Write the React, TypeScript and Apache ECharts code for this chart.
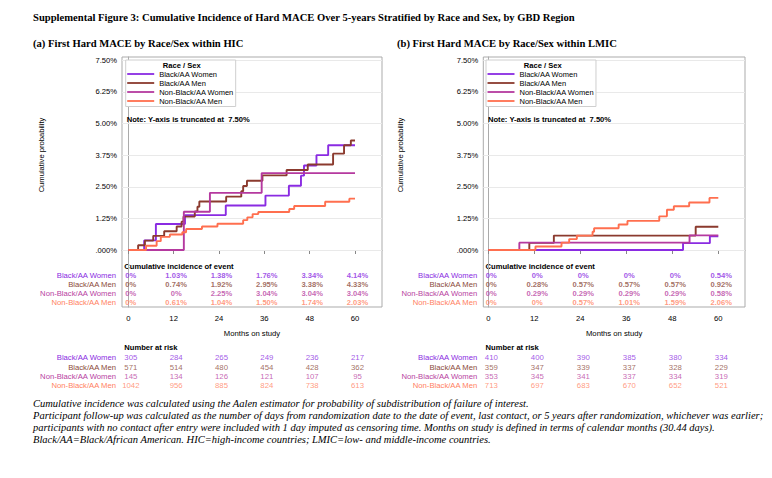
import React, { useEffect, useRef } from "react";
import * as echarts from "echarts";

const SANS = "'Liberation Sans', Arial, sans-serif";
const SERIF = "'Liberation Serif', 'Times New Roman', serif";

const GROUPS = ["Black/AA Women", "Black/AA Men", "Non-Black/AA Women", "Non-Black/AA Men"];
const LINE_COLORS = ["#8a2be2", "#8b3a2e", "#b5399f", "#ff6f4f"];
const TEXT_COLORS = ["#8a2be2", "#8b4a3a", "#b8429f", "#ff7f5f"];
const MONTHS = [0, 12, 24, 36, 48, 60];
const Y_TICKS = [0, 1.25, 2.5, 3.75, 5, 6.25, 7.5];
const Y_TICK_LABELS = [".000%", "1.25%", "2.50%", "3.75%", "5.00%", "6.25%", "7.50%"];

// (a) HIC cumulative incidence step curves: [month, percent]
const hicBlackWomen = [[0, 0], [4.2, 0.38], [7.3, 1.03], [15, 1.38], [25.8, 1.76], [36.3, 2.15], [42.5, 2.54], [45.7, 2.94], [46.5, 3.34], [49.8, 3.75], [52.9, 4.14], [60, 4.14]];
const hicBlackMen = [[0, 0], [2.6, 0.19], [4.4, 0.37], [6.6, 0.56], [9.5, 0.74], [12.8, 0.93], [14.1, 1.12], [14.6, 1.32], [17.6, 1.52], [18.3, 1.71], [18.8, 1.92], [25.9, 2.11], [29.9, 2.32], [30.4, 2.53], [31.4, 2.74], [35.5, 2.95], [41.9, 3.16], [47.5, 3.38], [54.2, 3.81], [57.1, 4.14], [58.9, 4.33], [60, 4.33]];
const hicNonBlackWomen = [[0, 0], [14.7, 1.51], [21.6, 2.26], [35.3, 3.04], [60, 3.04]];
const hicNonBlackMen = [[0, 0], [4.7, 0.17], [7.5, 0.35], [8.6, 0.52], [11, 0.61], [14.3, 0.7], [15.3, 0.83], [19.5, 0.93], [23.6, 1.04], [30.4, 1.18], [31.5, 1.29], [32.9, 1.42], [34.4, 1.5], [42.6, 1.62], [43.9, 1.74], [52.1, 1.91], [58.5, 2.03], [60, 2.03]];

// (b) LMIC
const lmicBlackWomen = [[0, 0], [50.8, 0.27], [57.8, 0.54], [60, 0.54]];
const lmicBlackMen = [[0, 0], [10.7, 0.28], [17.1, 0.57], [54.1, 0.92], [60, 0.92]];
const lmicNonBlackWomen = [[0, 0], [8.1, 0.29], [52.5, 0.58], [60, 0.58]];
const lmicNonBlackMen = [[0, 0], [12.3, 0.14], [19.1, 0.29], [21.1, 0.43], [23.1, 0.57], [27.2, 0.72], [27.6, 0.86], [34.0, 1.01], [36.3, 1.15], [44.6, 1.33], [46.6, 1.59], [48.4, 1.73], [52.4, 1.88], [57.7, 2.06], [60, 2.06]];

const hicIncidence = [
  ["0%", "1.03%", "1.38%", "1.76%", "3.34%", "4.14%"],
  ["0%", "0.74%", "1.92%", "2.95%", "3.38%", "4.33%"],
  ["0%", "0%", "2.25%", "3.04%", "3.04%", "3.04%"],
  ["0%", "0.61%", "1.04%", "1.50%", "1.74%", "2.03%"],
];
const lmicIncidence = [
  ["0%", "0%", "0%", "0%", "0%", "0.54%"],
  ["0%", "0.28%", "0.57%", "0.57%", "0.57%", "0.92%"],
  ["0%", "0.29%", "0.29%", "0.29%", "0.29%", "0.58%"],
  ["0%", "0%", "0.57%", "1.01%", "1.59%", "2.06%"],
];
const hicAtRisk = [
  [305, 284, 265, 249, 236, 217],
  [571, 514, 480, 454, 428, 362],
  [145, 134, 126, 121, 107, 95],
  [1042, 956, 885, 824, 738, 613],
];
const lmicAtRisk = [
  [410, 400, 390, 385, 380, 334],
  [359, 347, 339, 337, 328, 229],
  [353, 345, 341, 337, 334, 319],
  [713, 697, 683, 670, 652, 521],
];

const MAIN_TITLE = "Supplemental Figure 3: Cumulative Incidence of Hard MACE Over 5-years Stratified by Race and Sex, by GBD Region";
const PANEL_TITLES = ["(a) First Hard MACE by Race/Sex within HIC", "(b) First Hard MACE by Race/Sex within LMIC"];
const FOOTNOTES = [
  "Cumulative incidence was calculated using the Aalen estimator for probability of subdistribution of failure of interest.",
  "Participant follow-up was calculated as the number of days from randomization date to the date of event, last contact, or 5 years after randomization, whichever was earlier;",
  "participants with no contact after entry were included with 1 day imputed as censoring time. Months on study is defined in terms of calendar months (30.44 days).",
  "Black/AA=Black/African American. HIC=high-income countries; LMIC=low- and middle-income countries.",
];

const W = 772;
const H = 478;
const FRAME_TOP = 57;
const FRAME_BOTTOM = 307;
const Y0_PX = 250;
const Y75_PX = 60.3;
const INC_TOP = 270.4;
const RISK_TOP = 353.2;
const ROW_H = 9.2;
const FRAME_COLOR = "#ababab";

const PANELS = [
  { frameL: 122, frameR: 382, x0: 128.3, x60: 355, curves: [hicBlackWomen, hicBlackMen, hicNonBlackWomen, hicNonBlackMen], inc: hicIncidence, risk: hicAtRisk, titleX: 33, yNameX: 41.7, legendL: 125.7, valOffset: 2.5 },
  { frameL: 483.3, frameR: 745, x0: 488.3, x60: 718.3, curves: [lmicBlackWomen, lmicBlackMen, lmicNonBlackWomen, lmicNonBlackMen], inc: lmicIncidence, risk: lmicAtRisk, titleX: 397, yNameX: 400.7, legendL: 486, valOffset: 3 },
];

function makeRich(bold: boolean, size: number) {
  const rich: any = {};
  TEXT_COLORS.forEach((c, i) => (rich["r" + i] = { color: c, fontSize: size, fontFamily: SANS, fontWeight: bold ? "bold" : "normal" }));
  return rich;
}

function buildOption() {
  const pxPerPct = (Y0_PX - Y75_PX) / 7.5;
  const yMin = -(FRAME_BOTTOM - Y0_PX) / pxPerPct;
  const yMax = (Y0_PX - FRAME_TOP) / pxPerPct;
  const grid: any[] = [];
  const xAxis: any[] = [];
  const yAxis: any[] = [];
  const series: any[] = [];
  const legend: any[] = [];
  const graphic: any[] = [];
  const labelRich = makeRich(false, 7.7);

  PANELS.forEach((p, pi) => {
    const ppm = (p.x60 - p.x0) / 60;
    const xMin = -(p.x0 - p.frameL) / ppm;
    const xMax = (p.frameR - p.x0) / ppm;
    const gl = p.frameL;
    const gr = W - p.frameR;
    const base = pi * 3;
    grid.push({ left: gl, right: gr, top: FRAME_TOP, bottom: H - FRAME_BOTTOM, show: true, borderColor: FRAME_COLOR, borderWidth: 1 });
    grid.push({ left: gl, right: gr, top: INC_TOP, height: ROW_H * 4 });
    grid.push({ left: gl, right: gr, top: RISK_TOP, height: ROW_H * 4 });

    xAxis.push({
      gridIndex: base, type: "value", min: xMin, max: xMax,
      axisLine: { show: true, lineStyle: { color: FRAME_COLOR } },
      axisTick: { show: true, customValues: MONTHS, length: 4, lineStyle: { color: "#888" } },
      axisLabel: { customValues: MONTHS, fontSize: 7.7, fontFamily: SANS, color: "#000", margin: 7 },
      splitLine: { show: false },
      name: "Months on study", nameLocation: "middle", nameGap: 22,
      nameTextStyle: { fontSize: 7.7, fontFamily: SANS, color: "#000" },
    });
    xAxis.push({ gridIndex: base + 1, type: "value", min: xMin, max: xMax, show: false });
    xAxis.push({ gridIndex: base + 2, type: "value", min: xMin, max: xMax, show: false });

    yAxis.push({
      gridIndex: base, type: "value", min: yMin, max: yMax,
      axisLine: { show: true, lineStyle: { color: FRAME_COLOR } },
      axisTick: { show: false },
      axisLabel: {
        customValues: Y_TICKS, fontSize: 7.6, fontFamily: SANS, color: "#000", margin: 5,
        formatter: (v: number) => { const i = Y_TICKS.findIndex((t) => Math.abs(t - v) < 1e-6); return i >= 0 ? Y_TICK_LABELS[i] : ""; },
      },
      splitLine: { show: false },
    });
    const catAxis = (gi: number) => ({
      gridIndex: gi, type: "category", data: GROUPS, inverse: true,
      axisLine: { show: false }, axisTick: { show: false }, splitLine: { show: false },
      axisLabel: { interval: 0, margin: 6, formatter: (v: string, i: number) => `{r${i}|${v}}`, rich: labelRich },
    });
    yAxis.push(catAxis(base + 1));
    yAxis.push(catAxis(base + 2));

    p.curves.forEach((pts, gi) => {
      series.push({
        name: GROUPS[gi], type: "line", step: "end", xAxisIndex: base, yAxisIndex: base,
        data: pts, symbol: "none", showSymbol: false, silent: true,
        lineStyle: { color: LINE_COLORS[gi], width: 1.9 }, itemStyle: { color: LINE_COLORS[gi] },
        z: 3,
        markLine: gi === 0 ? {
          silent: true, symbol: "none", z: 1, label: { show: false },
          lineStyle: { color: "#e9e9e9", width: 1, type: "solid" },
          data: Y_TICKS.map((v) => ({ yAxis: v })),
        } : undefined,
      });
    });

    const tableSeries = (name: string, axisIdx: number, rows: any[][], bold: boolean) => ({
      name, type: "scatter", xAxisIndex: axisIdx, yAxisIndex: axisIdx, symbolSize: 0, silent: true,
      data: rows.flatMap((row, r) => row.map((v, c) => ({ value: [MONTHS[c], r], name: String(v) }))),
      label: {
        show: true, position: "inside", offset: [p.valOffset, 0],
        formatter: (prm: any) => `{r${prm.value[1]}|${prm.name}}`,
        rich: makeRich(bold, bold ? 7.6 : 7.8),
      },
    });
    series.push(tableSeries("inc" + pi, base + 1, p.inc, true));
    series.push(tableSeries("risk" + pi, base + 2, p.risk, false));

    legend.push({
      data: GROUPS, orient: "vertical", left: p.legendL, top: 60, padding: [9.5, 2, 1, 1.5],
      itemGap: 0, itemWidth: 27, itemHeight: 1.8, icon: "rect", selectedMode: false,
      textStyle: { fontSize: 7.5, fontFamily: SANS, color: "#000", lineHeight: 9 },
      borderColor: "#cfcfcf", borderWidth: 1, backgroundColor: "#fff", borderRadius: 0,
    });

    graphic.push(
      { type: "text", x: p.titleX, y: 43, style: { text: PANEL_TITLES[pi], font: `bold 10.6px ${SERIF}`, fill: "#000", textVerticalAlign: "middle" } },
      { type: "text", x: p.yNameX, y: 155, rotation: Math.PI / 2, style: { text: "Cumulative probability", font: `7.6px ${SANS}`, fill: "#000", textAlign: "center", textVerticalAlign: "middle" } },
      { type: "text", x: p.frameL + 4.7, y: 119, z: 10, style: { text: "Note: Y-axis is truncated at  7.50%", font: `bold 7.6px ${SANS}`, fill: "#000", textVerticalAlign: "middle" } },
      { type: "text", x: p.frameL + 2.3, y: 266, style: { text: "Cumulative incidence of event", font: `bold 7.6px ${SANS}`, fill: "#000", textVerticalAlign: "middle" } },
      { type: "text", x: p.frameL + 2.3, y: 347.7, style: { text: "Number at risk", font: `bold 7.6px ${SANS}`, fill: "#000", textVerticalAlign: "middle" } },
    );
  });

  graphic.push(
    { type: "text", x: 181.7, y: 65, z: 20, style: { text: "Race / Sex", font: `bold 7.6px ${SANS}`, fill: "#000", textAlign: "center", textVerticalAlign: "middle" } },
    { type: "text", x: 542.7, y: 65, z: 20, style: { text: "Race / Sex", font: `bold 7.6px ${SANS}`, fill: "#000", textAlign: "center", textVerticalAlign: "middle" } },
    { type: "text", x: 33, y: 17, style: { text: MAIN_TITLE, font: `bold 10.6px ${SERIF}`, fill: "#000", textVerticalAlign: "middle" } },
  );
  FOOTNOTES.forEach((t, i) => {
    graphic.push({ type: "text", x: 33, y: 403.3 + i * 12, style: { text: t, font: `italic 10.5px ${SERIF}`, fill: "#000", textVerticalAlign: "middle" } });
  });

  return { animation: false, backgroundColor: "#fff", grid, xAxis, yAxis, series, legend, graphic };
}

export default function App() {
  const ref = useRef<HTMLDivElement>(null);
  useEffect(() => {
    if (!ref.current) return;
    const chart = echarts.init(ref.current, undefined, { renderer: "svg" });
    chart.setOption(buildOption() as any);
    return () => chart.dispose();
  }, []);
  return <div ref={ref} style={{ position: "fixed", left: 0, top: 0, width: W, height: H, background: "#fff" }} />;
}
